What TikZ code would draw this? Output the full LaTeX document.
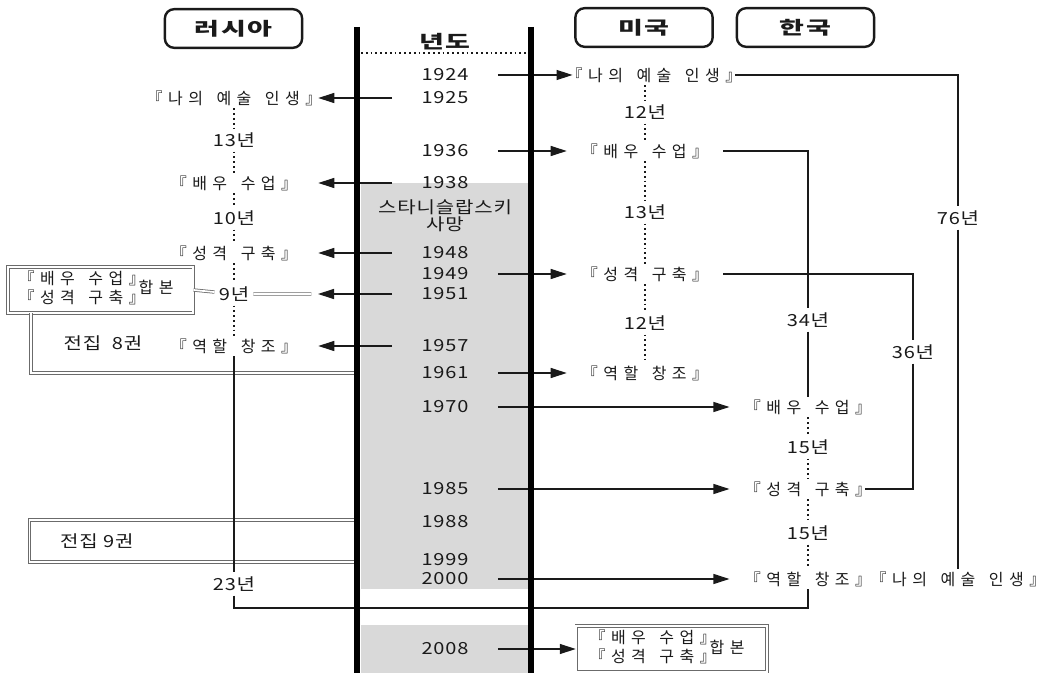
\documentclass[tikz,border=0pt]{standalone}
\usepackage{fontspec}
\setmainfont{Noto Sans CJK KR}
\newfontfamily\wide{Noto Sans CJK KR}[LetterSpace=34,WordSpace=1.5]
\newfontfamily\num{Noto Sans CJK KR}[FakeStretch=1.2,LetterSpace=5,WordSpace=2]
\newfontfamily\spread{Noto Sans CJK KR}[FakeStretch=1.5,LetterSpace=10]
\newcommand\bk[1]{\kern-.55em『#1』\kern-.55em}
\usetikzlibrary{arrows.meta,positioning,backgrounds,calc}
\definecolor{ink}{HTML}{1A1A1A}
\definecolor{band}{HTML}{D9D9D9}
\definecolor{frame}{HTML}{6B6B6B}
\tikzset{
  country/.style={draw=ink,line width=1.8pt,rounded corners=7pt,minimum width=103pt,
                  minimum height=29pt,font=\spread\bfseries\fontsize{13.5}{15}\selectfont,text=ink},
  year/.style={minimum width=79pt,inner sep=0pt,font=\num\fontsize{12.5}{14}\selectfont,text=ink},
  book/.style={inner sep=2pt,font=\wide\fontsize{12}{13}\selectfont,text=ink},
  rubook/.style={book,minimum width=126pt},
  usbook/.style={book,minimum width=117pt},
  gaplabel/.style={inner sep=3pt,font=\num\fontsize{12.5}{14}\selectfont,text=ink},
  dbox/.style={draw=frame,double,double distance=1.3pt,line width=0.6pt,inner sep=3pt,
               font=\wide\fontsize{12}{13.5}\selectfont,text=ink},
  twin/.style={draw=frame,double,double distance=1.3pt,line width=0.6pt},
  pillar/.style={line width=4.8pt,draw=black},
  flow/.style={-{Triangle[length=12pt,width=7.5pt]},line width=0.9pt,draw=ink},
  krflow/.style={flow,shorten >=16pt},
  dotline/.style={dash pattern=on 1.4pt off 2.2pt,line width=1.4pt,draw=ink},
  bracket/.style={line width=1pt,draw=ink}
}
\begin{document}
\begin{tikzpicture}[x=0.75pt,y=-0.75pt]
  \useasboundingbox (0,0) rectangle (1050,673);
  \fill[band] (361,183) rectangle (528,589);
  \fill[band] (361,625) rectangle (528,673);
  \coordinate (lt) at (357,27); \coordinate (lb) at (357,673);
  \coordinate (rt) at (531,27); \coordinate (rb) at (531,673);

  \node[country] (russia) at (233.5,28.5) {러시아};
  \node[country] (usa) at (644,27.5) {미국};
  \node[country] (korea) at (805.5,27.5) {한국};
  \node[font=\spread\bfseries\fontsize{13.5}{14}\selectfont,text=ink] (yearhead) at (445,42) {년도};
  \draw[dotline,line width=1pt] (lt |- 0,53) ++(4,0) -- (528,53);

  \foreach \yr/\yy in {1924/75,1925/98,1936/151,1938/183,1948/253,1949/274,1951/294,1957/346,
                       1961/373,1970/407,1985/489,1988/522,1999/560,2000/579,2008/649}
    \node[year] (y\yr) at (445,\yy) {\yr};
  \node[year,font=\num\fontsize{12.5}{13}\selectfont,align=center] (death) at (445,216) {스타니슬랍스키\\사망};

  % russia
  \node[rubook] (ru1925) at (234,98) {\bk{나의 예술 인생}};
  \node[rubook] (ru1938) at (234,183) {\bk{배우 수업}};
  \node[rubook] (ru1948) at (234,253) {\bk{성격 구축}};
  \node[rubook] (ru1957) at (234,346) {\bk{역할 창조}};
  \node[gaplabel] (ru13) at (234,140) {13년};
  \node[gaplabel] (ru10) at (234,218) {10년};
  \node[gaplabel] (ru9) at (234,294) {9년};
  \node[dbox,minimum width=139pt,minimum height=31.5pt] (rujoint) at (100.5,290)
    {\begin{tabular}{@{}l@{}}\bk{배우 수업}\\\bk{성격 구축}\end{tabular}\hspace{2pt}합본};
  \node[gaplabel] (vol8) at (103,343) {전집 8권};
  \node[dbox,anchor=west,minimum height=31.5pt,text width=200pt,inner xsep=23pt,align=left,
        font=\num\fontsize{12.5}{14}\selectfont] (vol9) at (29,541) {전집 9권};
  \coordinate (c8) at (31,373);
  \coordinate (r1951) at (318,294);
  \draw[twin] (rujoint.south -| c8) |- (lt |- c8);
  \draw[dotline] (ru1925) -- (ru13) -- (ru1938) -- (ru10) -- (ru1948) -- (ru9) -- (ru1957);
  \foreach \yr in {1925,1938,1948,1957}
    \draw[flow] (y\yr.west) -- (ru\yr.east);
  \draw[flow] (y1951.west) -- (r1951);
  \draw[twin,shorten >=5pt] (rujoint.east) -- (ru9) -- (r1951);

  % usa
  \node[usbook] (us1924) at (654,75) {\bk{나의 예술 인생}};
  \node[usbook] (us1936) at (645,151) {\bk{배우 수업}};
  \node[usbook] (us1949) at (645,274) {\bk{성격 구축}};
  \node[usbook] (us1961) at (645,373) {\bk{역할 창조}};
  \node[gaplabel] (us12a) at (645,112) {12년};
  \node[gaplabel] (us13) at (645,212) {13년};
  \node[gaplabel] (us12b) at (645,323) {12년};
  \node[dbox,minimum width=143pt,minimum height=31.5pt] (usjoint) at (671.5,649)
    {\begin{tabular}{@{}l@{}}\bk{배우 수업}\\\bk{성격 구축}\end{tabular}\hspace{2pt}합본};
  \draw[dotline] (us1924.south -| us12a) -- (us12a) -- (us1936) -- (us13) -- (us1949) -- (us12b) -- (us1961);
  \foreach \yr in {1924,1936,1949,1961}
    \draw[flow] (y\yr.east) -- (us\yr.west);
  \draw[flow] (y2008.east) -- (usjoint.west);

  % korea
  \node[book] (kr1970) at (808,407) {\bk{배우 수업}};
  \node[book] (kr1985) at (808,489) {\bk{성격 구축}};
  \node[book] (kr2000) at (808,579) {\bk{역할 창조}};
  \node[book] (krbook) at (958,579) {\bk{나의 예술 인생}};
  \node[gaplabel] (kr15a) at (808,447) {15년};
  \node[gaplabel] (kr15b) at (808,533) {15년};
  \draw[dotline] (kr1970) -- (kr15a) -- (kr1985) -- (kr15b) -- (kr2000);
  \foreach \yr in {1970,1985,2000}
    \draw[krflow] (y\yr.east) -- (kr\yr.west);

  % spans
  \node[gaplabel] (b76) at (958,218) {76년};
  \node[gaplabel] (b34) at (808,320) {34년};
  \node[gaplabel] (b36) at (913,352) {36년};
  \node[gaplabel] (b23) at (234,584) {23년};
  \coordinate (c23) at (500,608);
  \draw[bracket] (us1924.east) -| (b76.north);
  \draw[bracket] (b76.south) -- (krbook.north);
  \draw[bracket] (us1936.east) -| (b34.north);
  \draw[bracket] (b34.south) -- (kr1970.north);
  \draw[bracket] (us1949.east) -| (b36.north);
  \draw[bracket] (b36.south) |- (kr1985.east);
  \draw[bracket] (ru1957.south) -- (b23.north);
  \draw[bracket] (b23.south) |- (c23) -| (kr2000.south);

  \draw[pillar] (lt) -- (lb);
  \draw[pillar] (rt) -- (rb);
\end{tikzpicture}
\end{document}
